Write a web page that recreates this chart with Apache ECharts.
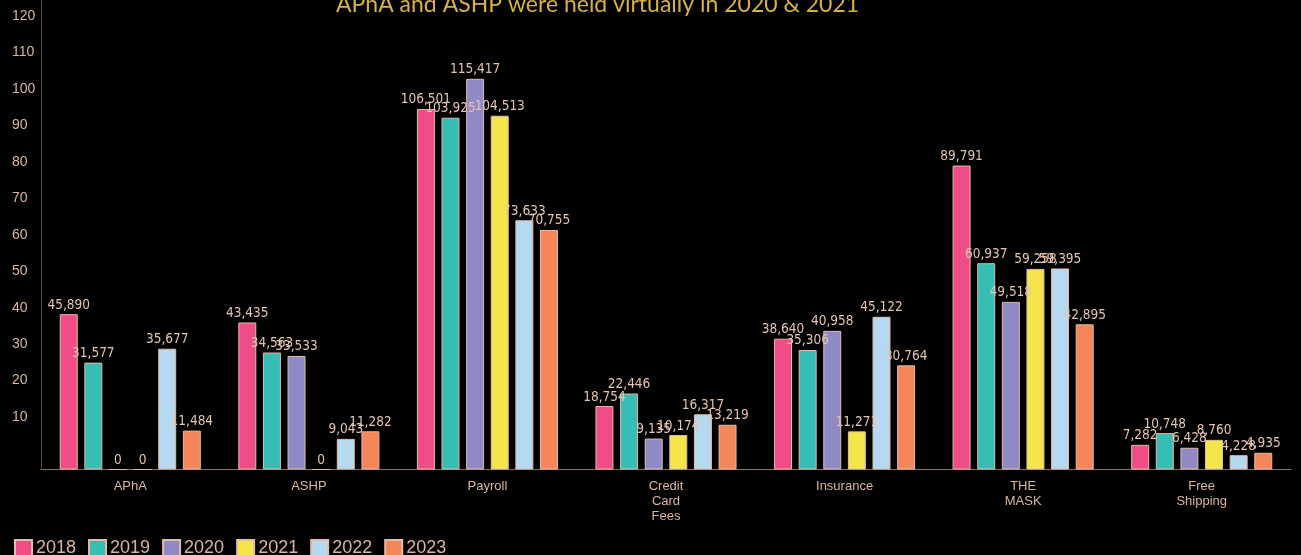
<!DOCTYPE html>
<html>
<head>
<meta charset="utf-8">
<script src="https://cdn.jsdelivr.net/npm/echarts@6/dist/echarts.min.js"></script>
<style>
html,body{margin:0;padding:0;background:#000;}
#c{width:1301px;height:555px;}
</style>
</head>
<body>
<div id="c"></div>
<script>
const categories = ['APhA', 'ASHP', 'Payroll', 'Credit\nCard\nFees', 'Insurance', 'THE\nMASK', 'Free\nShipping'];
const years = ['2018', '2019', '2020', '2021', '2022', '2023'];
const v2018 = [45890, 43435, 106501, 18754, 38640, 89791, 7282];
const v2019 = [31577, 34563, 103925, 22446, 35306, 60937, 10748];
const v2020 = [0, 33533, 115417, 9135, 40958, 49518, 6428];
const v2021 = [0, 0, 104513, 10174, 11271, 59258, 8760];
const v2022 = [35677, 9043, 73633, 16317, 45122, 59395, 4228];
const v2023 = [11484, 11282, 70755, 13219, 30764, 42895, 4935];
const yTicks = [10, 20, 30, 40, 50, 60, 70, 80, 90, 100, 110, 120];
const titleText = 'APhA and ASHP were held virtually in 2020 & 2021';

const seriesValues = [v2018, v2019, v2020, v2021, v2022, v2023];
const colors = ['#ef4c88', '#36bdb6', '#8f89c6', '#f3e54a', '#b4d9f1', '#f4865a'];
const txt = '#dcb4a0';
const narrow = '"DejaVu Sans Condensed", "Liberation Sans Narrow", sans-serif';

const chart = echarts.init(document.getElementById('c'));
chart.setOption({
  backgroundColor: '#000',
  animation: false,
  color: colors,
  title: {
    text: titleText,
    left: 331,
    top: -12,
    textStyle: { color: '#d8b144', fontSize: 23, fontWeight: 'normal', fontFamily: 'Lato, sans-serif' }
  },
  legend: {
    data: years,
    left: 9,
    top: 534,
    itemWidth: 17,
    itemHeight: 16,
    itemGap: 12,
    icon: 'rect',
    textStyle: { color: txt, fontSize: 18, fontFamily: '"Liberation Sans", Arial, sans-serif', padding: [0, 0, 0, -1] }
  },
  grid: [
    { left: 41, right: 10, top: 0, bottom: 85.5 },
    { left: 41, right: 10, top: 16, bottom: 101.5 }
  ],
  xAxis: [
    {
      type: 'category', gridIndex: 0, data: categories,
      axisLine: { lineStyle: { color: '#8c7468', width: 1 } },
      axisTick: { alignWithLabel: true, length: 3, lineStyle: { color: '#8c7468' } },
      axisLabel: { color: txt, fontSize: 13, lineHeight: 15, margin: 9, fontFamily: '"Liberation Sans", Arial, sans-serif' }
    },
    { type: 'category', gridIndex: 1, show: false, data: categories }
  ],
  yAxis: [
    {
      type: 'value', gridIndex: 0, min: 0, max: 138700,
      axisLine: { show: true, lineStyle: { color: '#5a4640', width: 1 } },
      axisTick: { show: false }, axisLabel: { show: false }, splitLine: { show: false }
    },
    {
      type: 'value', gridIndex: 1, min: 0, max: 120, interval: 10,
      axisLine: { show: false }, axisTick: { show: false }, splitLine: { show: false },
      axisLabel: {
        color: txt, fontSize: 14, align: 'left', margin: 29,
        fontFamily: '"Liberation Sans", Arial, sans-serif',
        formatter: function (v) { return yTicks.indexOf(v) >= 0 ? String(v) : ''; }
      }
    }
  ],
  series: years.map(function (y, i) {
    return {
      name: y,
      type: 'bar',
      xAxisIndex: 0, yAxisIndex: 0,
      data: seriesValues[i],
      barGap: '37%',
      barCategoryGap: '21%',
      itemStyle: { color: colors[i], borderColor: '#e2bca6', borderWidth: 1 },
      label: {
        show: true, position: 'top', distance: 2,
        color: '#e6c4b2', fontSize: 13.5, fontFamily: narrow,
        formatter: function (p) { return p.value.toLocaleString('en-US'); }
      }
    };
  })
});
</script>
</body>
</html>
